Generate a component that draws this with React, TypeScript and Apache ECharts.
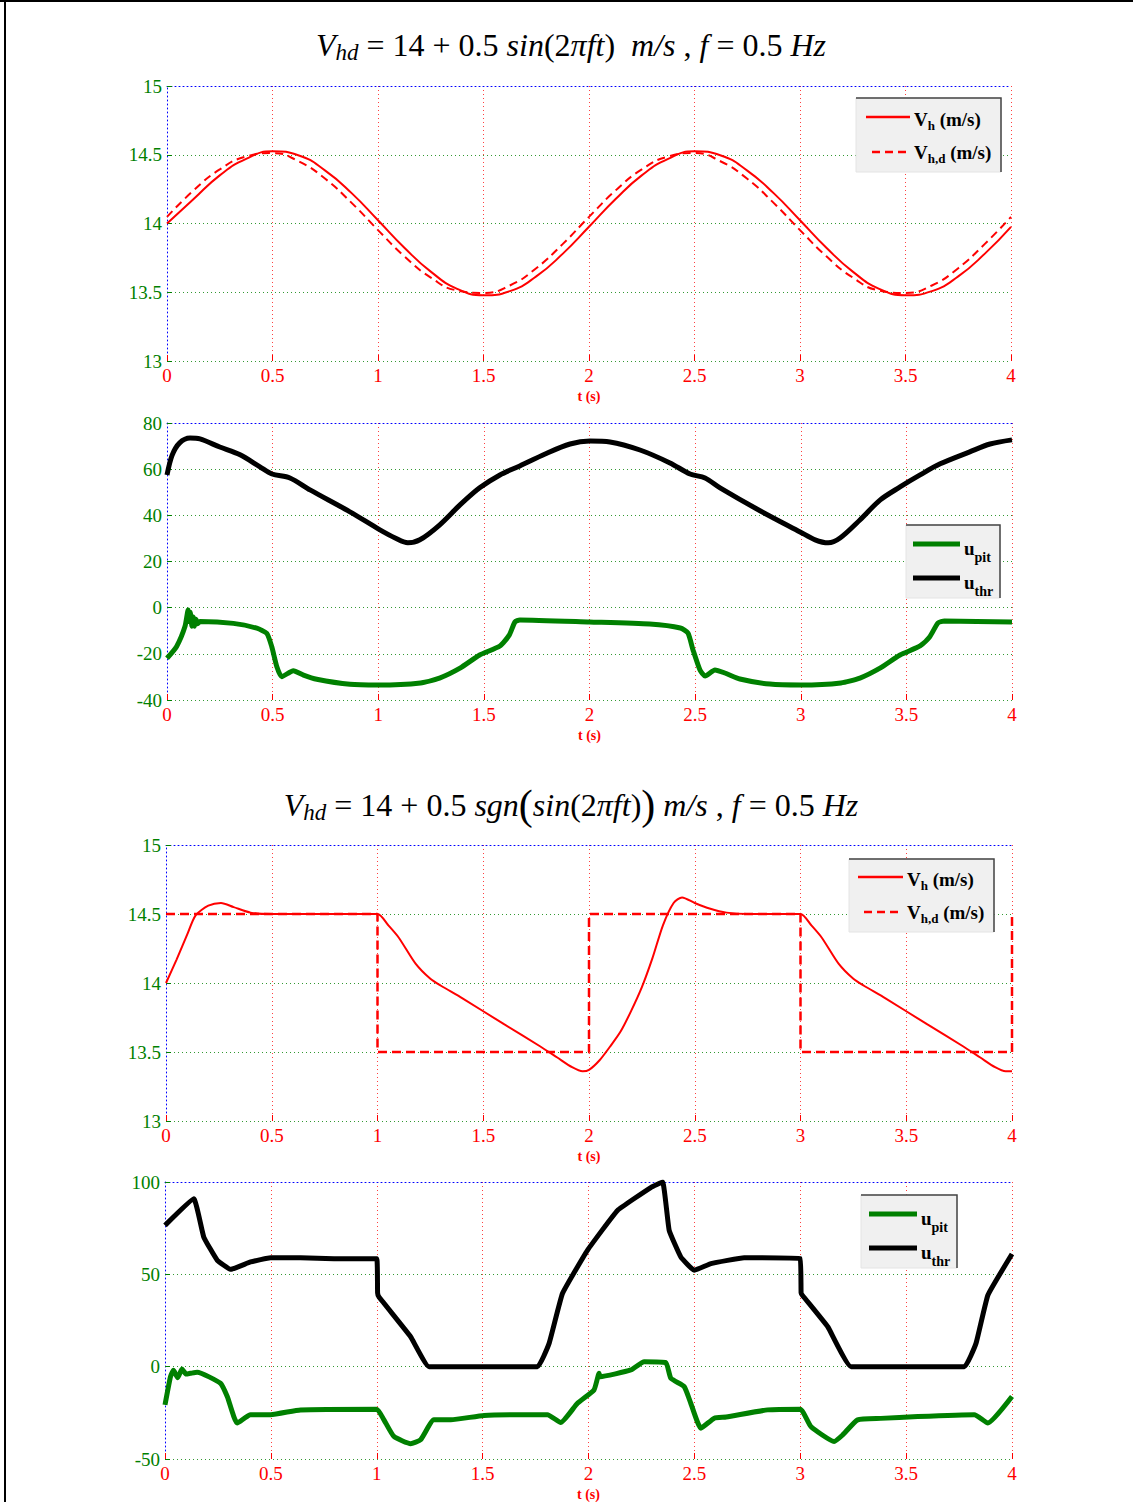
import React, { useEffect, useRef } from 'react';
import * as echarts from 'echarts';

// ---------- DATA ----------
const T_SINE = [0, 0.125, 0.25, 0.375, 0.5, 0.625, 0.75, 0.875, 1, 1.125, 1.25, 1.375, 1.5, 1.625, 1.75, 1.875, 2, 2.125, 2.25, 2.375, 2.5, 2.625, 2.75, 2.875, 3, 3.125, 3.25, 3.375, 3.5, 3.625, 3.75, 3.875, 4];
const VH_SINE = [14.0, 14.176, 14.35, 14.47, 14.525, 14.495, 14.385, 14.221, 14.024, 13.824, 13.65, 13.525, 13.478, 13.508, 13.615, 13.779, 13.976, 14.176, 14.35, 14.47, 14.525, 14.495, 14.385, 14.221, 14.024, 13.824, 13.65, 13.525, 13.478, 13.508, 13.615, 13.779, 13.976];
const VHD_SINE = [14.048, 14.239, 14.393, 14.487, 14.512, 14.451, 14.325, 14.15, 13.952, 13.761, 13.607, 13.513, 13.495, 13.549, 13.675, 13.85, 14.048, 14.239, 14.393, 14.487, 14.512, 14.451, 14.325, 14.15, 13.952, 13.761, 13.607, 13.513, 13.495, 13.549, 13.675, 13.85, 14.048];

const THR2_T = [0, 0.024, 0.06, 0.109, 0.156, 0.25, 0.346, 0.44, 0.497, 0.582, 0.677, 0.866, 1.008, 1.08, 1.14, 1.197, 1.29, 1.387, 1.48, 1.576, 1.67, 1.79, 1.908, 2.002, 2.097, 2.239, 2.381, 2.476, 2.547, 2.618, 2.807, 2.997, 3.068, 3.13, 3.186, 3.28, 3.375, 3.47, 3.565, 3.66, 3.8, 3.896, 4];
const THR2_V = [57.5, 66, 71.4, 73.5, 73.1, 69.6, 66.2, 61, 57.9, 56.2, 51, 41.5, 33.7, 30.2, 28.1, 29.4, 35.8, 44.5, 51.9, 57.5, 61.4, 66.6, 70.9, 72.2, 71.8, 68.3, 62.7, 57.9, 56.2, 51.9, 42, 32.8, 29.4, 28.1, 30.2, 38, 46.6, 52.3, 57.5, 62.3, 67.5, 70.9, 72.7];
const PIT2_T = [0, 0.045, 0.085, 0.1, 0.105, 0.11, 0.118, 0.124, 0.13, 0.137, 0.145, 0.156, 0.314, 0.425, 0.472, 0.496, 0.52, 0.543, 0.598, 0.646, 0.709, 0.866, 1.0, 1.2, 1.29, 1.387, 1.48, 1.576, 1.62, 1.647, 1.67, 2.0, 2.285, 2.43, 2.466, 2.49, 2.523, 2.547, 2.594, 2.641, 2.712, 2.854, 3.0, 3.19, 3.28, 3.375, 3.47, 3.565, 3.61, 3.65, 3.68, 4];
const PIT2_V = [-21.9, -16.9, -8.2, -1, -6, -2, -8, -4, -8, -5, -7, -6, -6.8, -8.9, -11.1, -16.9, -25.6, -29.9, -27.3, -29.2, -31, -33.2, -33.5, -32.6, -30.5, -26.2, -20.5, -16.6, -11.9, -6.2, -5.3, -6.2, -7.1, -8.8, -11, -18.3, -27, -29.6, -27, -28.3, -30.9, -33.1, -33.5, -32.6, -30.5, -26.2, -20.5, -16.6, -12.7, -6.6, -5.8, -6.2];

const VH3_T = [0, 0.05, 0.1, 0.14, 0.2, 0.26, 0.32, 0.4, 0.5, 1.0, 1.05, 1.1, 1.18, 1.25, 1.3, 1.4, 1.6, 1.77, 1.85, 1.92, 1.97, 2.0, 2.05, 2.1, 2.15, 2.2, 2.25, 2.3, 2.35, 2.4, 2.44, 2.5, 2.57, 2.65, 2.75, 3.0, 3.05, 3.1, 3.18, 3.25, 3.3, 3.4, 3.6, 3.77, 3.85, 3.92, 3.97, 4.0];
const VH3_V = [14.0, 14.17, 14.35, 14.49, 14.56, 14.58, 14.55, 14.51, 14.5, 14.5, 14.42, 14.33, 14.14, 14.03, 13.98, 13.89, 13.7, 13.54, 13.46, 13.39, 13.36, 13.37, 13.44, 13.54, 13.65, 13.8, 13.97, 14.18, 14.42, 14.58, 14.62, 14.58, 14.54, 14.51, 14.5, 14.5, 14.42, 14.33, 14.14, 14.03, 13.98, 13.89, 13.7, 13.54, 13.46, 13.39, 13.36, 13.36];
const VHD3_T = [0, 1, 1, 2, 2, 3, 3, 4, 4];
const VHD3_V = [14.5, 14.5, 13.5, 13.5, 14.5, 14.5, 13.5, 13.5, 14.5];

const THR4_T = [0, 0.136, 0.183, 0.247, 0.31, 0.404, 0.499, 0.64, 0.798, 1.0, 1.004, 1.01, 1.16, 1.247, 1.759, 1.814, 1.877, 1.995, 2.137, 2.294, 2.35, 2.381, 2.436, 2.499, 2.578, 2.735, 3.0, 3.004, 3.01, 3.13, 3.24, 3.775, 3.83, 3.886, 4];
const THR4_V = [76.5, 90.9, 70.2, 57.6, 52.7, 56.7, 59, 59, 58.5, 58.5, 40, 37.8, 16.2, 0, 0, 12.6, 39.6, 63, 84.6, 97, 100, 73.8, 59.4, 52.2, 55.8, 59, 58.5, 40, 38.7, 21.6, 0, 0, 12.6, 38.7, 61];
const PIT4_T = [0, 0.026, 0.04, 0.06, 0.08, 0.1, 0.12, 0.152, 0.262, 0.294, 0.341, 0.404, 0.499, 0.64, 1.0, 1.034, 1.081, 1.16, 1.207, 1.27, 1.35, 1.507, 1.806, 1.869, 1.948, 2.026, 2.05, 2.055, 2.2, 2.263, 2.365, 2.389, 2.452, 2.483, 2.531, 2.594, 2.65, 2.846, 3.0, 3.05, 3.16, 3.2, 3.271, 3.38, 3.555, 3.822, 3.886, 4];
const PIT4_V = [-20.7, -5.4, -2, -6, -1.3, -4, -3.6, -3, -9, -16.2, -30.5, -26, -26, -23.4, -23, -28.8, -37.8, -41.7, -39.6, -28.8, -28.8, -26.4, -26, -30.2, -19.8, -12.6, -3.6, -5.4, -1.8, 2.7, 2.2, -6.3, -10.8, -19.8, -33.3, -27.9, -27.3, -23.4, -23, -32.4, -40.5, -37, -28.8, -28, -27, -26, -30.5, -16.2];

const Y_RANGES = [
  { min: 13, max: 15, interval: 0.5 },
  { min: -40, max: 80, interval: 20 },
  { min: 13, max: 15, interval: 0.5 },
  { min: -50, max: 100, interval: 50 },
];

// ---------- STYLE ----------
const RED = '#ff0000';
const GREEN = '#008000';
const BLUE = '#0000ff';
const FONT = '"Liberation Serif", "Times New Roman", serif';
const MATH = '"Liberation Serif", "Times New Roman", serif';
const DOT = [1, 3];

const GRIDS = [
  { left: 167, top: 86, width: 844, height: 275 },
  { left: 167, top: 423, width: 845, height: 277 },
  { left: 166, top: 845, width: 846, height: 276 },
  { left: 165, top: 1182, width: 847, height: 278 },
];

const zip = (t: number[], v: number[]) => t.map((x, i) => [x, v[i]]);

const legendRich = {
  b: { fontFamily: FONT, fontSize: 19, fontWeight: 'bold', color: '#000' },
  s: { fontFamily: FONT, fontSize: 13, fontWeight: 'bold', color: '#000', padding: [13, 0, 0, 0] },
  u: { fontFamily: FONT, fontSize: 14, fontWeight: 'bold', color: '#000', padding: [18, 0, 0, 0] },
};

function legendBox(x: number, y: number, w: number, h: number, items: any[]) {
  const els: any[] = [
    { type: 'rect', z: 100, shape: { x, y, width: w, height: h }, style: { fill: '#f0f0f0', stroke: '#e4e4e4', lineWidth: 1 } },
    { type: 'polyline', z: 101, shape: { points: [[x, y], [x + w, y], [x + w, y + h]] }, style: { stroke: '#444', lineWidth: 1.5, fill: null } },
  ];
  items.forEach((it) => {
    els.push({
      type: 'line', z: 102,
      shape: { x1: it.x1, y1: it.ly, x2: it.x2, y2: it.ly },
      style: { stroke: it.color, lineWidth: it.lw, lineDash: it.dash || null },
    });
    els.push({
      type: 'text', z: 102, x: it.tx, y: it.ty,
      style: { text: it.text, rich: legendRich, verticalAlign: 'middle', align: 'left' },
    });
  });
  return els;
}

const titleRich = {
  n: { fontFamily: MATH, fontSize: 32, color: '#000' },
  i: { fontFamily: MATH, fontSize: 32, fontStyle: 'italic', color: '#000' },
  s: { fontFamily: MATH, fontSize: 23, fontStyle: 'italic', color: '#000', padding: [15, 0, 0, 0] },
  p: { fontFamily: MATH, fontSize: 42, color: '#000' },
};

export default function App() {
  const ref = useRef<HTMLDivElement>(null);
  useEffect(() => {
    if (!ref.current) return;
    const chart = echarts.init(ref.current, undefined, { renderer: 'svg' });

    const xAxis: any[] = [];
    const yAxis: any[] = [];
    GRIDS.forEach((_, i) => {
      xAxis.push({
        type: 'value', gridIndex: i, min: 0, max: 4, interval: 0.5, position: 'bottom',
        axisLine: { show: false, onZero: false },
        axisTick: { show: true, inside: true, length: 6, lineStyle: { color: RED, width: 1 } },
        axisLabel: { color: RED, fontFamily: FONT, fontSize: 19, margin: 5 },
        splitLine: { show: true, showMinLine: false, lineStyle: { color: 'rgba(255,0,0,0.75)', type: DOT, width: 1 } },
        name: 't (s)', nameLocation: 'middle', nameGap: 28,
        nameTextStyle: { color: RED, fontFamily: FONT, fontSize: 14, fontWeight: 'bold' },
      });
      xAxis.push({
        type: 'value', gridIndex: i, min: 0, max: 4, position: 'top',
        axisLine: { show: true, onZero: false, lineStyle: { color: BLUE, type: DOT, width: 1 } },
        axisTick: { show: false }, axisLabel: { show: false }, splitLine: { show: false },
      });
      yAxis.push({
        type: 'value', gridIndex: i, ...Y_RANGES[i],
        axisLine: { show: true, onZero: false, lineStyle: { color: BLUE, type: DOT, width: 1 } },
        axisTick: { show: true, inside: true, length: 5, lineStyle: { color: GREEN, width: 1 } },
        axisLabel: { color: GREEN, fontFamily: FONT, fontSize: 19, margin: 5 },
        splitLine: { show: true, showMaxLine: false, lineStyle: { color: 'rgba(0,128,0,0.8)', type: DOT, width: 1 } },
      });
    });

    const line = (name: string, gi: number, data: number[][], color: string, width: number, dash?: number[], smooth?: number) => ({
      name, type: 'line', xAxisIndex: gi * 2, yAxisIndex: gi, data,
      showSymbol: false, symbol: 'none', smooth: smooth || false,
      lineStyle: { color, width, type: dash || 'solid', cap: 'butt' },
      itemStyle: { color },
    });

    const series = [
      line('Vh1', 0, zip(T_SINE, VH_SINE), RED, 2, undefined, 0.5),
      line('Vhd1', 0, zip(T_SINE, VHD_SINE), RED, 2, [8, 5], 0.5),
      line('pit2', 1, zip(PIT2_T, PIT2_V), GREEN, 5, undefined, 0.2),
      line('thr2', 1, zip(THR2_T, THR2_V), '#000', 5, undefined, 0.3),
      line('Vh3', 2, zip(VH3_T, VH3_V), RED, 2, undefined, 0.25),
      line('Vhd3', 2, zip(VHD3_T, VHD3_V), RED, 2.5, [9, 5]),
      line('pit4', 3, zip(PIT4_T, PIT4_V), GREEN, 5, undefined, 0.15),
      line('thr4', 3, zip(THR4_T, THR4_V), '#000', 5, undefined, 0.1),
    ];

    const graphic: any[] = [
      { type: 'line', shape: { x1: 5, y1: 0, x2: 5, y2: 1502 }, style: { stroke: '#000', lineWidth: 2 } },
      { type: 'line', shape: { x1: 0, y1: 1, x2: 1133, y2: 1 }, style: { stroke: '#000', lineWidth: 2 } },
      {
        type: 'text', x: 571, y: 45,
        style: {
          text: '{i|V}{s|hd}{n| = 14 + 0.5 }{i|sin}{n|(2}{i|πft}{n|)  }{i|m/s}{n| , }{i|f}{n| = 0.5 }{i|Hz}',
          rich: titleRich, align: 'center', verticalAlign: 'middle',
        },
      },
      {
        type: 'text', x: 571, y: 805,
        style: {
          text: '{i|V}{s|hd}{n| = 14 + 0.5 }{i|sgn}{p|(}{i|sin}{n|(2}{i|πft}{n|)}{p|)}{n| }{i|m/s}{n| , }{i|f}{n| = 0.5 }{i|Hz}',
          rich: titleRich, align: 'center', verticalAlign: 'middle',
        },
      },
      ...legendBox(856, 98, 145, 74, [
        { x1: 866, x2: 910, ly: 117, color: RED, lw: 2.5, tx: 914, ty: 119, text: '{b|V}{s|h}{b| (m/s)}' },
        { x1: 872, x2: 910, ly: 152, color: RED, lw: 2.5, dash: [8, 5], tx: 914, ty: 152, text: '{b|V}{s|h,d}{b| (m/s)}' },
      ]),
      ...legendBox(906, 525, 94, 73, [
        { x1: 913, x2: 960, ly: 544, color: GREEN, lw: 5, tx: 964, ty: 548, text: '{b|u}{u|pit}' },
        { x1: 913, x2: 960, ly: 578, color: '#000', lw: 5, tx: 964, ty: 582, text: '{b|u}{u|thr}' },
      ]),
      ...legendBox(849, 859, 145, 73, [
        { x1: 858, x2: 903, ly: 877, color: RED, lw: 2.5, tx: 907, ty: 879, text: '{b|V}{s|h}{b| (m/s)}' },
        { x1: 864, x2: 903, ly: 912, color: RED, lw: 2.5, dash: [8, 5], tx: 907, ty: 912, text: '{b|V}{s|h,d}{b| (m/s)}' },
      ]),
      ...legendBox(861, 1195, 96, 73, [
        { x1: 869, x2: 917, ly: 1214, color: GREEN, lw: 5, tx: 921, ty: 1218, text: '{b|u}{u|pit}' },
        { x1: 869, x2: 917, ly: 1248, color: '#000', lw: 5, tx: 921, ty: 1252, text: '{b|u}{u|thr}' },
      ]),
    ];

    chart.setOption({
      animation: false,
      backgroundColor: '#fff',
      grid: GRIDS.map((g) => ({ ...g, containLabel: false })),
      xAxis,
      yAxis,
      series,
      graphic,
    });
    return () => chart.dispose();
  }, []);

  return (
    <div style={{ position: 'absolute', left: 0, top: 0, width: 1133, height: 1502, background: '#fff' }}>
      <div ref={ref} style={{ width: 1133, height: 1502 }} />
    </div>
  );
}
